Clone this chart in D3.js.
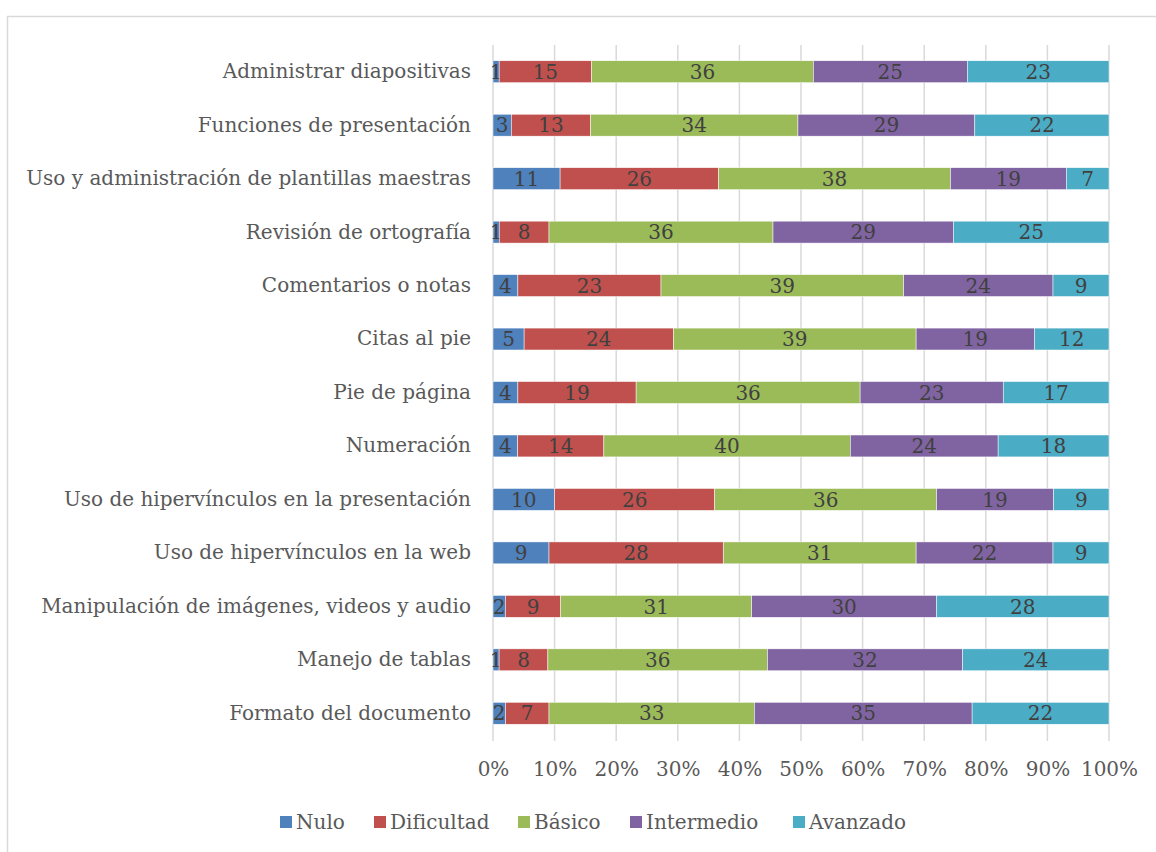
<!DOCTYPE html>
<html lang="es">
<head>
    <meta charset="UTF-8">
    <title> Niveles de uso </title>
    <script type="text/javascript" src="https://cdn.jsdelivr.net/npm/d3@7"></script>
    <style type="text/css">
        body { margin: 0; background: #fff; }
        text { font-family: "DejaVu Serif", serif; }
    </style>
</head>
<body>
    <script type="text/javascript">
        //Width and height
        var w = 1156;
        var h = 852;

        //Categories, top to bottom
        var categories = [
            "Administrar diapositivas",
            "Funciones de presentación",
            "Uso y administración de plantillas maestras",
            "Revisión de ortografía",
            "Comentarios o notas",
            "Citas al pie",
            "Pie de página",
            "Numeración",
            "Uso de hipervínculos en la presentación",
            "Uso de hipervínculos en la web",
            "Manipulación de imágenes, videos y audio",
            "Manejo de tablas",
            "Formato del documento"
        ];

        var seriesNames = ["Nulo", "Dificultad", "Básico", "Intermedio", "Avanzado"];

        //Series values, same order as categories
        var nulo       = [1, 3, 11, 1, 4, 5, 4, 4, 10, 9, 2, 1, 2];
        var dificultad = [15, 13, 26, 8, 23, 24, 19, 14, 26, 28, 9, 8, 7];
        var basico     = [36, 34, 38, 36, 39, 39, 36, 40, 36, 31, 31, 36, 33];
        var intermedio = [25, 29, 19, 29, 24, 19, 23, 24, 19, 22, 30, 32, 35];
        var avanzado   = [23, 22, 7, 25, 9, 12, 17, 18, 9, 9, 28, 24, 22];

        var tickLabels = ["0%", "10%", "20%", "30%", "40%", "50%", "60%", "70%", "80%", "90%", "100%"];

        var colors = ["#4F81BD", "#C0504D", "#9BBB59", "#8064A2", "#4BACC6"];

        //build rows for the stack (shares of each row total)
        var allSeries = [nulo, dificultad, basico, intermedio, avanzado];
        var rows = categories.map(function(c, i) {
            var row = { category: c };
            var total = d3.sum(allSeries, function(s) { return s[i]; });
            seriesNames.forEach(function(name, k) {
                row[name] = allSeries[k][i] / total;
                row[name + "_label"] = allSeries[k][i];
            });
            return row;
        });

        var stacked = d3.stack().keys(seriesNames)(rows);

        var xScale = d3.scaleLinear()
            .domain([0, 1])
            .range([493, 1109]);

        var yScale = d3.scaleBand()
            .domain(categories)
            .range([45, 740])
            .paddingInner(0.59)
            .paddingOuter(0.295);

        //Create SVG element
        var svg = d3.select("body")
            .append("svg")
            .attr("width", w)
            .attr("height", h);

        //chart frame
        svg.append("rect")
            .attr("x", 7.5)
            .attr("y", 16.5)
            .attr("width", w + 10)
            .attr("height", h + 10)
            .attr("fill", "white")
            .attr("stroke", "#D9D9D9")
            .attr("stroke-width", 1.5);

        //gridlines
        svg.selectAll("line.grid")
            .data(d3.range(0, 1.0001, 0.1))
            .enter()
            .append("line")
            .attr("class", "grid")
            .attr("x1", function(d) { return xScale(d); })
            .attr("x2", function(d) { return xScale(d); })
            .attr("y1", 45)
            .attr("y2", 741)
            .attr("stroke", "#D9D9D9")
            .attr("stroke-width", 1.5);

        //x axis labels
        var xAxis = d3.axisBottom(xScale)
            .tickValues(d3.range(0, 1.0001, 0.1))
            .tickFormat(function(d, i) { return tickLabels[i]; })
            .tickSize(0)
            .tickPadding(21);

        var gx = svg.append("g")
            .attr("transform", "translate(0,741)")
            .call(xAxis);
        gx.select(".domain").remove();
        gx.selectAll("text")
            .attr("font-size", "20px")
            .attr("fill", "#595959");

        //y axis labels
        var yAxis = d3.axisLeft(yScale)
            .tickSize(0)
            .tickPadding(22);

        var gy = svg.append("g")
            .attr("transform", "translate(493,0)")
            .call(yAxis);
        gy.select(".domain").remove();
        gy.selectAll("text")
            .attr("font-size", "20px")
            .attr("fill", "#595959");

        //bars
        var groups = svg.selectAll("g.series")
            .data(stacked)
            .enter()
            .append("g")
            .attr("class", "series")
            .attr("fill", function(d, i) { return colors[i]; });

        groups.selectAll("rect")
            .data(function(d) { return d; })
            .enter()
            .append("rect")
            .attr("x", function(d) { return xScale(d[0]); })
            .attr("y", function(d) { return yScale(d.data.category); })
            .attr("width", function(d) { return xScale(d[1]) - xScale(d[0]); })
            .attr("height", yScale.bandwidth())
            .attr("stroke", "white")
            .attr("stroke-width", 0.5);

        //data labels
        groups.each(function(s) {
            d3.select(this).selectAll("text")
                .data(s)
                .enter()
                .append("text")
                .text(function(d) { return d.data[s.key + "_label"]; })
                .attr("text-anchor", "middle")
                .attr("x", function(d) { return (xScale(d[0]) + xScale(d[1])) / 2; })
                .attr("y", function(d) { return yScale(d.data.category) + yScale.bandwidth() / 2; })
                .attr("dy", "0.36em")
                .attr("font-size", "20px")
                .attr("fill", "#404040");
        });

        //legend
        var legendX = [280, 374, 518, 630, 793];
        var legend = svg.selectAll("g.legend")
            .data(seriesNames)
            .enter()
            .append("g")
            .attr("class", "legend")
            .attr("transform", function(d, i) { return "translate(" + legendX[i] + ",822)"; });

        legend.append("rect")
            .attr("x", 0)
            .attr("y", -6)
            .attr("width", 12)
            .attr("height", 12)
            .attr("fill", function(d, i) { return colors[i]; });

        legend.append("text")
            .text(function(d) { return d; })
            .attr("x", 16)
            .attr("dy", "0.36em")
            .attr("font-size", "20px")
            .attr("fill", "#595959");
    </script>
</body>
</html>
